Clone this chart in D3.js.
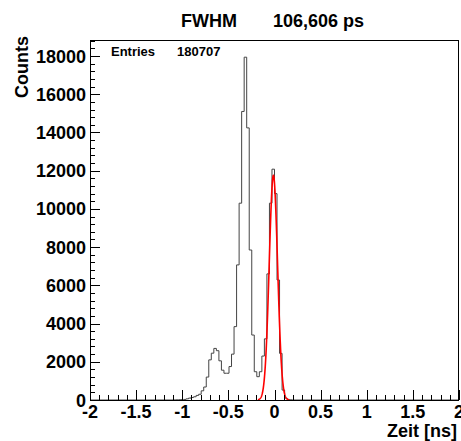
<!DOCTYPE html>
<html>
<head>
<meta charset="utf-8">
<script src="https://cdn.jsdelivr.net/npm/d3@7"></script>
<style>
  html, body { margin: 0; padding: 0; background: #fff; }
  text { font-family: "Liberation Sans", Arial, sans-serif; font-weight: bold; fill: #000; }
</style>
</head>
<body>
<script>
// histogram: bins of fixed width, first bin starts at firstEdge
var firstEdge = -1.096;
var binWidth = 0.0274;
var counts = [5, 10, 15, 20, 30, 60, 100, 130, 170, 240,
              300, 480, 680, 1200, 2100, 2450, 2700, 2580, 2050, 1560,
              1400, 1400, 1750, 2400, 3840, 7070, 10300, 15100, 17940, 14240,
              7850, 3400, 1480, 1220, 1480, 2300, 3200, 6600, 10300, 12080,
              10800, 6280, 2440, 520, 100, 30, 10];

// gaussian fit parameters (constant, mean, sigma) and fit range
var fitConst = 11750;
var fitMean = -0.012;
var fitSigma = 0.04527;
var fitRange = [-0.18, 0.16];

var xTicks = [-2, -1.5, -1, -0.5, 0, 0.5, 1, 1.5, 2];
var yTicks = [0, 2000, 4000, 6000, 8000, 10000, 12000, 14000, 16000, 18000];
var xDomain = [-2, 2];
var yMax = 18840;

var titleLeft = "FWHM";
var titleRight = "106,606 ps";
var statsLabel = "Entries";
var statsValue = "180707";

function draw() {
  var W = 461, H = 441;
  var fL = 90, fR = 459, fT = 40, fB = 400;

  var svg = d3.select("body").append("svg")
    .attr("width", W)
    .attr("height", H);

  var x = d3.scaleLinear().domain(xDomain).range([fL, fR]);
  var y = d3.scaleLinear().domain([0, yMax]).range([fB, fT]);

  // histogram step path
  var pts = [[xDomain[0], 0], [firstEdge, 0]];
  counts.forEach(function (c, i) {
    var e0 = firstEdge + i * binWidth;
    pts.push([e0, c]);
    pts.push([e0 + binWidth, c]);
  });
  pts.push([firstEdge + counts.length * binWidth, 0]);
  pts.push([xDomain[1], 0]);

  svg.append("path")
    .attr("d", d3.line().x(function (d) { return x(d[0]); }).y(function (d) { return y(d[1]); })(pts))
    .attr("fill", "none")
    .attr("stroke", "#444")
    .attr("stroke-width", 1);

  // fit curve
  var fitPts = d3.range(fitRange[0], fitRange[1] + 1e-9, 0.002).map(function (v) {
    var z = (v - fitMean) / fitSigma;
    return [v, fitConst * Math.exp(-0.5 * z * z)];
  });
  svg.append("path")
    .attr("d", d3.line().x(function (d) { return x(d[0]); }).y(function (d) { return y(d[1]); })(fitPts))
    .attr("fill", "none")
    .attr("stroke", "#ff0000")
    .attr("stroke-width", 1.6);

  // frame
  svg.append("rect")
    .attr("x", fL + 0.5).attr("y", fT + 0.5)
    .attr("width", fR - fL - 1).attr("height", fB - fT)
    .attr("fill", "none")
    .attr("stroke", "#000")
    .attr("stroke-width", 1);

  // ticks (ROOT style, inside the frame)
  var tickG = svg.append("g").attr("stroke", "#000").attr("stroke-width", 1);
  d3.range(0, yMax, 400).forEach(function (v) {
    var major = v % 2000 === 0;
    tickG.append("line")
      .attr("x1", fL).attr("x2", fL + (major ? 10 : 5))
      .attr("y1", Math.round(y(v)) + 0.5).attr("y2", Math.round(y(v)) + 0.5);
  });
  d3.range(-20, 21).forEach(function (k) {
    var v = k / 10;
    var major = k % 5 === 0;
    tickG.append("line")
      .attr("x1", Math.round(x(v)) + 0.5).attr("x2", Math.round(x(v)) + 0.5)
      .attr("y1", fB).attr("y2", fB - (major ? 10 : 5));
  });

  // tick labels
  svg.append("g").selectAll("text").data(yTicks).enter().append("text")
    .attr("x", fL - 4)
    .attr("y", function (d) { return y(d) + 6.5; })
    .attr("text-anchor", "end")
    .attr("font-size", 18)
    .text(function (d) { return d; });

  svg.append("g").selectAll("text").data(xTicks).enter().append("text")
    .attr("x", function (d) { return x(d); })
    .attr("y", 418)
    .attr("text-anchor", "middle")
    .attr("font-size", 18)
    .text(function (d) { return d; });

  // axis titles
  svg.append("text")
    .attr("x", 457).attr("y", 437)
    .attr("text-anchor", "end")
    .attr("font-size", 18)
    .text("Zeit [ns]");

  svg.append("text")
    .attr("transform", "translate(28,36) rotate(-90)")
    .attr("text-anchor", "end")
    .attr("font-size", 18)
    .text("Counts");

  // title
  svg.append("text").attr("x", 181).attr("y", 27).attr("font-size", 18).text(titleLeft);
  svg.append("text").attr("x", 273).attr("y", 27).attr("font-size", 18).text(titleRight);

  // stats
  svg.append("text").attr("x", 111).attr("y", 56).attr("font-size", 13).text(statsLabel);
  svg.append("text").attr("x", 177).attr("y", 56).attr("font-size", 13).text(statsValue);
}

document.addEventListener("DOMContentLoaded", function () {
  draw();
});
</script>
</body>
</html>
